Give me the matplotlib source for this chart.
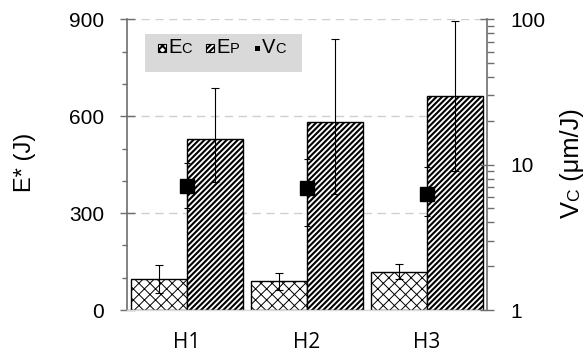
import matplotlib
matplotlib.use("Agg")
import matplotlib.pyplot as plt
from matplotlib.ticker import MultipleLocator, FixedLocator, LogLocator, NullFormatter
from matplotlib.patches import Rectangle
import numpy as np

# ---- data ----
categories = ["H1", "H2", "H3"]
ec = [96, 89, 119]
ec_err = [43, 27, 22]
ep = [530, 583, 664]
ep_err_low = [135, 224, 235]
ep_err_high = [156, 255, 230]
vc = [7.1, 6.9, 6.3]
vc_err_low = [2.05, 3.1, 1.9]
vc_err_high = [3.2, 4.05, 3.3]
left_ticks = [0, 300, 600, 900]
right_ticks = [1, 10, 100]

NUM_FONT = "Liberation Sans"
CAT_FONT = "Open Sans"
SPINE = "#6e6e6e"
W, H = 584, 352

fig = plt.figure(figsize=(5.84, 3.52), dpi=100)
ax = fig.add_axes([127 / W, 1 - 310 / H, 359.7 / W, 290.7 / H])

x = np.arange(len(categories))
w = 0.4667

plt.rcParams['hatch.linewidth'] = 0.7
b1 = ax.bar(x - w / 2, ec, w, color="white", edgecolor="black", hatch="xxx",
            linewidth=1.0, zorder=2)
plt.rcParams['hatch.linewidth'] = 1.5
b2 = ax.bar(x + w / 2, ep, w, color="white", edgecolor="black", hatch="//////",
            linewidth=1.0, zorder=2)
for b in b1:
    if hasattr(b, "set_hatch_linewidth"):
        b.set_hatch_linewidth(0.7)
for b in b2:
    if hasattr(b, "set_hatch_linewidth"):
        b.set_hatch_linewidth(1.5)

ax.errorbar(x - w / 2, ec, yerr=ec_err, fmt="none", ecolor="black",
            elinewidth=0.8, capsize=3, capthick=0.8, zorder=3)
ax.errorbar(x + w / 2, ep, yerr=[ep_err_low, ep_err_high], fmt="none",
            ecolor="black", elinewidth=0.8, capsize=3, capthick=0.8, zorder=3)

ax.set_xlim(-0.5, 2.5)
ax.set_ylim(0, 900)
ax.yaxis.set_major_locator(FixedLocator(left_ticks))
ax.yaxis.set_minor_locator(MultipleLocator(100))
ax.set_axisbelow(True)
ax.grid(axis="y", which="major", color="#cfcfcf", linestyle=(0, (6, 4)), linewidth=1.0)

ax.set_xticks(x)
ax.set_xticklabels(categories, fontfamily=CAT_FONT, fontsize=15)
ax.tick_params(axis="x", length=0, pad=16)
ax.tick_params(axis="y", which="major", direction="inout", length=10.8, width=1.0,
               color=SPINE, labelsize=15, pad=11)
ax.tick_params(axis="y", which="minor", direction="out", length=3.6, width=1.0, color=SPINE)
for lab in ax.get_yticklabels():
    lab.set_fontfamily(NUM_FONT)

for s in ["top", "right"]:
    ax.spines[s].set_visible(False)
ax.spines["left"].set_color(SPINE)
ax.spines["left"].set_linewidth(1.2)
ax.spines["bottom"].set_color("#d9d9d9")
ax.spines["bottom"].set_linewidth(1.0)

# ---- right axis ----
ax2 = ax.twinx()
ax2.set_yscale("log")
ax2.set_ylim(1, 100)
ax2.errorbar(x, vc, yerr=[vc_err_low, vc_err_high], fmt="s", color="black",
             markersize=9.5, ecolor="black", elinewidth=0.8, capsize=2.5,
             capthick=0.8, zorder=5)
ax2.yaxis.set_major_locator(FixedLocator(right_ticks))
ax2.set_yticklabels([str(t) for t in right_ticks], fontfamily=NUM_FONT)
ax2.yaxis.set_minor_locator(LogLocator(base=10, subs=np.arange(2, 10)))
ax2.yaxis.set_minor_formatter(NullFormatter())
ax2.tick_params(axis="y", which="major", direction="inout", length=9.4, width=1.0,
                color=SPINE, labelsize=15, pad=12)
ax2.tick_params(axis="y", which="minor", direction="out", length=4.8, width=1.0, color=SPINE)
for s in ["top", "left", "bottom"]:
    ax2.spines[s].set_visible(False)
ax2.spines["right"].set_color(SPINE)
ax2.spines["right"].set_linewidth(1.2)


def px2ax(px, py):
    return (px - 127) / 359.7, (310 - py) / 290.7


# ---- legend (manual) ----
lx0, ly0 = px2ax(145, 71.7)
lx1, ly1 = px2ax(301.7, 34.3)
ax2.add_patch(Rectangle((lx0, ly0), lx1 - lx0, ly1 - ly0, transform=ax2.transAxes,
                        facecolor="#d9d9d9", edgecolor="none", zorder=10))

fig.canvas.draw()
renderer = fig.canvas.get_renderer()
inv = fig.transFigure.inverted()


def chain_text(start_px, base_py, pieces, rotation=0, target=None):
    """Place text pieces one after the other on a shared baseline (pixel coords).
    If target is given, sizes are scaled so the total run length equals target px."""
    def place(scale):
        arts = []
        cur = start_px
        for txt, size in pieces:
            if rotation == 0:
                fx, fy = inv.transform((cur, H - base_py))
            else:
                fx, fy = inv.transform((base_py, H - cur))
            t = fig.text(fx, fy, txt, fontfamily=NUM_FONT, fontsize=size * scale,
                         ha="left", va="baseline", rotation=rotation,
                         rotation_mode="anchor", zorder=11)
            bb = t.get_window_extent(renderer)
            cur = bb.x1 if rotation == 0 else H - bb.y1
            arts.append(t)
        return arts, abs(cur - start_px)

    arts, length = place(1.0)
    if target is not None:
        for a in arts:
            a.remove()
        arts, length = place(target / length)
    return arts


# left axis label, rotated, centred on the axis
chain_text(192.5, 31, [("E* (J)", 16)], rotation=90, target=59)

# legend entries
for hx, hatch in [(158, "xxxx"), (206.5, "//////")]:
    ax0, ay0 = px2ax(hx, 51.5)
    ax1, ay1 = px2ax(hx + 8, 43.5)
    ax2.add_patch(Rectangle((ax0, ay0), ax1 - ax0, ay1 - ay0, transform=ax2.transAxes,
                            facecolor="white", edgecolor="black", hatch=hatch,
                            linewidth=0.8, zorder=11))
mx0, my0 = px2ax(255, 51)
mx1, my1 = px2ax(260.5, 45.5)
ax2.add_patch(Rectangle((mx0, my0), mx1 - mx0, my1 - my0, transform=ax2.transAxes,
                        facecolor="black", edgecolor="none", zorder=11))

chain_text(168, 53, [("E", 14.5), ("C", 10.5)])
chain_text(216, 53, [("E", 14.5), ("P", 10.5)])
chain_text(261.5, 53, [("V", 14.5), ("C", 10.5)])

# right axis label (rotated, reading upward)
chain_text(218, 579, [("V", 17.5), ("C", 12), (" (μm/J)", 17.5)], rotation=90, target=109)

fig.savefig("out.png", dpi=100)
